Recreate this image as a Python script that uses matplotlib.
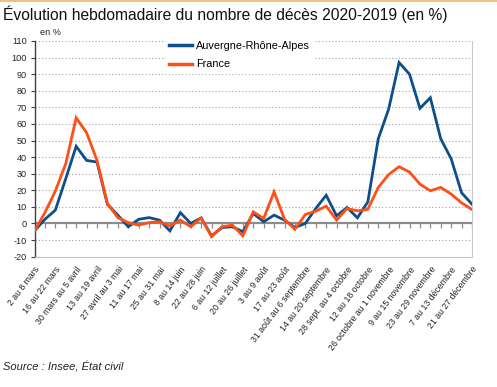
import matplotlib
matplotlib.use("Agg")
import matplotlib.pyplot as plt
from matplotlib.lines import Line2D

weeks = ["2 au 8 mars", "9 au 15 mars", "16 au 22 mars", "23 au 29 mars",
         "30 mars au 5 avril", "6 au 12 avril", "13 au 19 avril", "20 au 26 avril",
         "27 avril au 3 mai", "4 au 10 mai", "11 au 17 mai", "18 au 24 mai",
         "25 au 31 mai", "1 au 7 juin", "8 au 14 juin", "15 au 21 juin",
         "22 au 28 juin", "29 juin au 5 juillet", "6 au 12 juillet", "13 au 19 juillet",
         "20 au 26 juillet", "27 juillet au 2 août", "3 au 9 août", "10 au 16 août",
         "17 au 23 août", "24 au 30 août", "31 août au 6 septembre", "7 au 13 septembre",
         "14 au 20 septembre", "21 au 27 septembre", "28 sept. au 4 octobre", "5 au 11 octobre",
         "12 au 18 octobre", "19 au 25 octobre", "26 octobre au 1 novembre", "2 au 8 novembre",
         "9 au 15 novembre", "16 au 22 novembre", "23 au 29 novembre", "30 nov. au 6 décembre",
         "7 au 13 décembre", "14 au 20 décembre", "21 au 27 décembre"]

ara = [-4.5, 2.5, 8, 27, 46.5, 38, 37, 11.5, 5, -2, 2.5, 3.5, 2, -4.5, 6.5, 0, 3.3, -7.5,
       -2.5, -2, -5, 6, 1, 5, 2, -2.5, 0, 9, 17, 4.6, 9.6, 3.4, 13, 51, 69, 97, 90, 69.4,
       75.8, 51, 39, 18.5, 11.6]
france = [-4.5, 6.5, 19.5, 36, 63.7, 54.7, 38, 12, 3.5, 0.5, -1, 0.5, 1, -1.5, 2, -2, 3.3, -8,
          -2, -1, -7.5, 7, 3, 19, 2.5, -3.5, 5.4, 7.4, 10.4, 2, 9, 7.6, 8.5, 21.7, 29.5, 34.2,
          31, 23.7, 19.7, 21.7, 17.7, 12.4, 8.4]
series_names = ["Auvergne-Rhône-Alpes", "France"]
yticks = list(range(-20, 111, 10))

blue = "#0d4f8b"
orange = "#ff4f14"
sans = ["Liberation Sans", "DejaVu Sans"]

W, H = 497, 387
fig = plt.figure(figsize=(W / 100, H / 100), dpi=100)
ax = fig.add_axes([34.5 / W, 1 - 256.6 / H, (472 - 34.5) / W, (256.6 - 41) / H])

x = list(range(len(weeks)))
ax.set_xlim(0, len(weeks) - 1)
ax.set_ylim(-20, 110)

for v in yticks:
    if v != 0:
        ax.axhline(v, color="#a0a0a0", lw=0.8, ls=(0, (1, 2)), zorder=0)
ax.axhline(0, color="#8c8c8c", lw=1.6, zorder=1)
ax.vlines(x, -3, 0, color="#8c8c8c", lw=0.9, zorder=1)

ax.plot(x, ara, color=blue, lw=2.0, zorder=3, solid_joinstyle="miter")
ax.plot(x, france, color=orange, lw=2.0, zorder=4, solid_joinstyle="miter")

ax.spines["top"].set_visible(False)
ax.spines["right"].set_color("#c8c8c8")
ax.spines["bottom"].set_color("#c8c8c8")
ax.spines["left"].set_color("#404040")
ax.spines["left"].set_linewidth(1.0)

ax.set_yticks(yticks)
ax.set_yticklabels([str(v) for v in yticks], fontfamily=sans, fontsize=6.6, color="#222222")
ax.tick_params(axis="y", length=3, width=0.8, color="#404040", pad=2.5)

ax.set_xticks(x[::2])
ax.set_xticklabels(weeks[::2], rotation=53, ha="right", va="top", rotation_mode="anchor",
                   fontfamily=sans, fontsize=6.3, color="#222222")
ax.tick_params(axis="x", length=0, pad=6)

ax.text(0.012, 1.02, "en %", transform=ax.transAxes, fontfamily=sans, fontsize=6.6,
        color="#222222", ha="left", va="bottom")

handles = [Line2D([], [], color=blue, lw=2.5), Line2D([], [], color=orange, lw=2.5)]
leg = fig.legend(handles, series_names, loc="upper left",
                 bbox_to_anchor=(166 / W, 1 - 38 / H), frameon=True, fancybox=False,
                 edgecolor="white", facecolor="white", framealpha=1,
                 prop={"family": sans, "size": 7.8}, handlelength=2.1, handletextpad=0.35,
                 labelspacing=0.75, borderpad=0.3, borderaxespad=0)

fig.text(3 / W, 1 - 20 / H, "Évolution hebdomadaire du nombre de décès 2020-2019 (en %)",
         fontfamily=sans, fontsize=11.25, color="#111111",
         ha="left", va="baseline")
fig.text(3 / W, 1 - 371 / H, "Source : Insee, État civil", fontstyle="italic",
         fontfamily=sans, fontsize=8, color="#222222",
         ha="left", va="baseline")
fig.add_artist(Line2D([0, 1], [1 - 0.5 / H, 1 - 0.5 / H], transform=fig.transFigure,
                      color="#f5b070", lw=1.2))

fig.savefig("out.png", dpi=100)
